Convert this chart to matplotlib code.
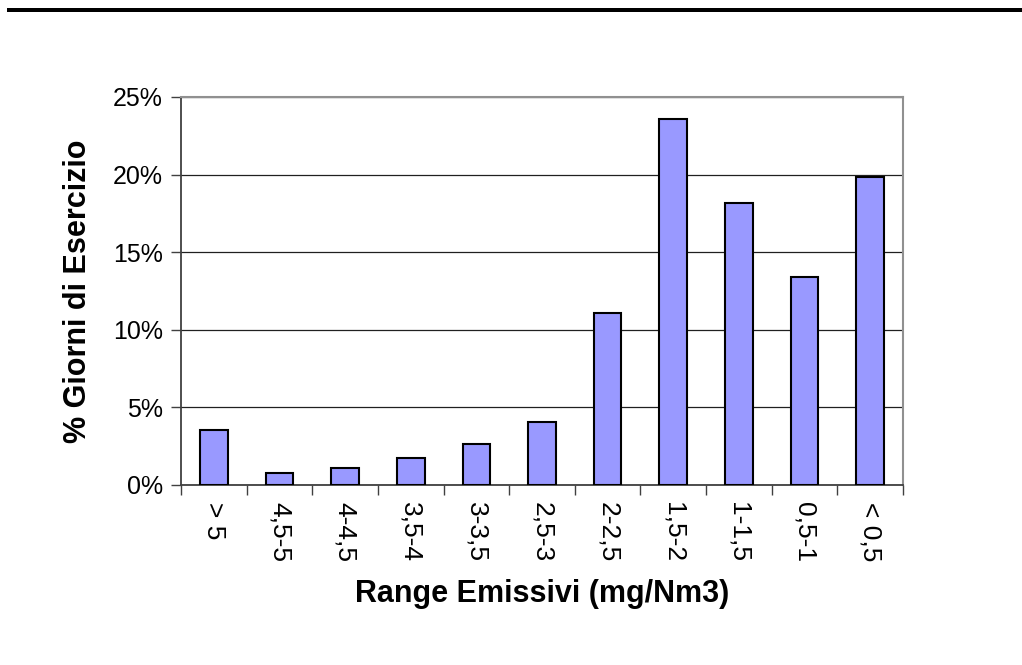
import matplotlib
matplotlib.use('Agg')
import matplotlib.pyplot as plt
from matplotlib.patches import Rectangle
from matplotlib.ticker import FuncFormatter, FixedLocator
import numpy as np

plt.rcParams['font.family'] = ['Liberation Sans', 'DejaVu Sans']

categories = ['> 5', '4,5-5', '4-4,5', '3,5-4', '3-3,5', '2,5-3',
              '2-2,5', '1,5-2', '1-1,5', '0,5-1', '< 0,5']
values = [3.54, 0.79, 1.10, 1.72, 2.64, 4.04,
          11.10, 23.58, 18.19, 13.42, 19.87]

fig = plt.figure(figsize=(10.22, 6.65), dpi=100)
ax = fig.add_axes([181 / 1022, 180 / 665, 722 / 1022, 388 / 665])

x = np.arange(len(categories))
ax.bar(x, values, width=0.42, color='#9999FF', edgecolor='black',
       linewidth=1.5, zorder=3)

ax.set_xlim(-0.5, len(categories) - 0.5)
ax.set_ylim(0, 25)
ax.set_yticks(np.arange(0, 26, 5))
ax.yaxis.set_major_formatter(FuncFormatter(lambda v, p: f'{v:.0f}%'))
ax.yaxis.grid(True, color='#202020', linewidth=0.9, zorder=1)

# ticks between categories, labels centred under bars
ax.xaxis.set_major_locator(FixedLocator(np.arange(-0.5, len(categories), 1)))
ax.xaxis.set_major_formatter(FuncFormatter(lambda v, p: ''))
ax.set_xticks(x, minor=True)
ax.set_xticklabels(categories, minor=True, rotation=-90, fontsize=19)
ax.tick_params(axis='x', which='minor', length=0, pad=12)
ax.tick_params(axis='x', which='major', length=7, width=1, color='#404040')
ax.tick_params(axis='y', length=7, width=1, color='#404040', labelsize=18, pad=6)

for side in ['left', 'bottom']:
    ax.spines[side].set_color('#404040')
    ax.spines[side].set_linewidth(1.3)
for side in ['top', 'right']:
    ax.spines[side].set_color('#909090')
    ax.spines[side].set_linewidth(1.5)

ax.set_ylabel('% Giorni di Esercizio', fontsize=22, fontweight='bold', labelpad=14)
ax.set_xlabel('Range Emissivi (mg/Nm3)', fontsize=22, fontweight='bold', labelpad=12)

# thick rule at the top of the page
fig.add_artist(Rectangle((7 / 1022, (665 - 12) / 665), 1, 4 / 665,
                         transform=fig.transFigure, color='black', lw=0))

fig.savefig('out.png', dpi=100)
